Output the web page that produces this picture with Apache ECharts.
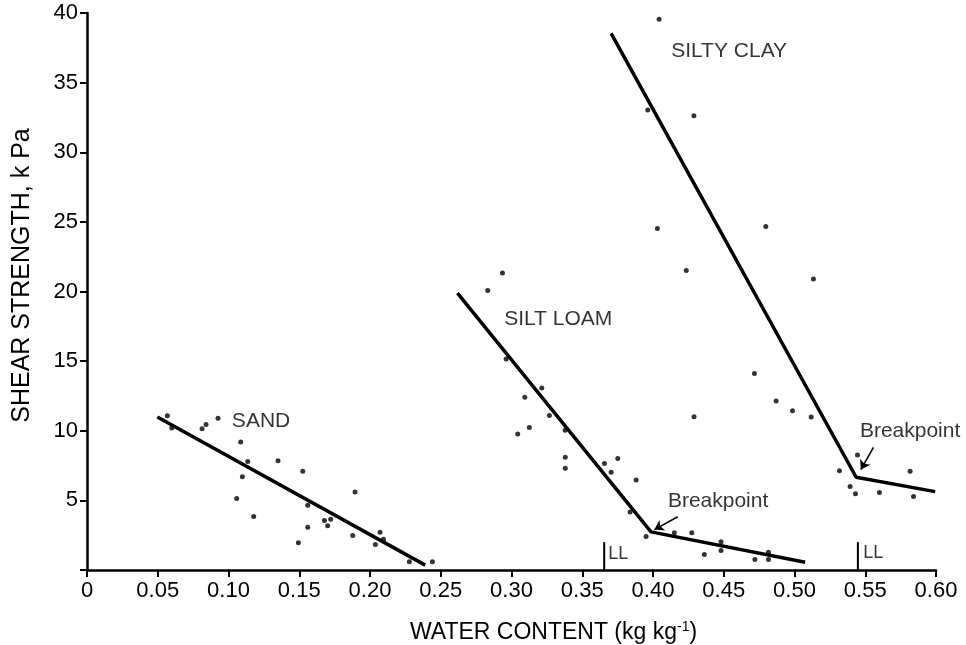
<!DOCTYPE html>
<html>
<head>
<meta charset="utf-8">
<title>Shear strength vs water content</title>
<script src="https://cdn.jsdelivr.net/npm/echarts@6/dist/echarts.min.js"></script>
<style>
  html, body { margin: 0; padding: 0; background: #fff; }
  #chart { width: 966px; height: 645px; }
</style>
</head>
<body>
<div id="chart"></div>
<script>
// measured points [water content, shear strength kPa]
const sandPts = [
  [0.0568, 11.08], [0.0599, 10.2], [0.0813, 10.15], [0.0841, 10.44], [0.0926, 10.9],
  [0.1086, 9.2], [0.1136, 7.8], [0.135, 7.85], [0.1098, 6.7], [0.1058, 5.13],
  [0.1178, 3.84], [0.1525, 7.1], [0.1894, 5.6], [0.156, 4.65], [0.1678, 3.55],
  [0.1722, 3.65], [0.1701, 3.17], [0.156, 3.07], [0.1494, 1.95], [0.1878, 2.47],
  [0.2071, 2.71], [0.2095, 2.21], [0.2038, 1.83], [0.2278, 0.59], [0.2441, 0.59]
]
const siltLoamPts = [
  [0.2936, 21.32], [0.2832, 20.07], [0.2962, 15.15], [0.3214, 13.07], [0.3094, 12.4],
  [0.3268, 11.1], [0.3126, 10.24], [0.3044, 9.77], [0.3379, 10.03], [0.338, 8.1],
  [0.338, 7.3], [0.3657, 7.64], [0.3751, 8.0], [0.3704, 7.02], [0.3881, 6.47],
  [0.3838, 4.17], [0.3951, 2.4], [0.4151, 2.67], [0.4274, 2.67], [0.4481, 2.02],
  [0.4481, 1.4], [0.4363, 1.11], [0.472, 0.75], [0.4816, 1.28], [0.4816, 0.75]
]
const siltyClayPts = [
  [0.4043, 39.56], [0.3963, 33.03], [0.4289, 32.63], [0.4031, 24.52], [0.4797, 24.66],
  [0.4235, 21.5], [0.5134, 20.89], [0.4717, 14.12], [0.487, 12.14], [0.4986, 11.44],
  [0.5118, 10.99], [0.429, 11.0], [0.5318, 7.12], [0.5445, 8.26], [0.5393, 5.99],
  [0.5431, 5.47], [0.56, 5.56], [0.5817, 7.09], [0.5841, 5.27]
]

// fitted broken-line models
const sandFit = [[0.0497, 10.99], [0.239, 0.35]]
const siltLoamFit = [[0.2618, 19.88], [0.3986, 2.74], [0.5075, 0.56]]
const siltyClayFit = [[0.3704, 38.54], [0.5436, 6.66], [0.5994, 5.63]]

// liquid limit markers
const llX = [0.3655, 0.5448]
const llTop = 2.0

// text annotations [x, y, text]
const soilLabels = [
  [0.123, 10.65, 'SAND'],
  [0.333, 18.04, 'SILT LOAM'],
  [0.4538, 37.27, 'SILTY CLAY']
]
const breakLabels = [
  [0.446, 4.91, 'Breakpoint'],
  [0.5817, 9.96, 'Breakpoint']
]
const breakArrows = [
  [[0.4175, 3.82], [0.401, 2.9]],
  [[0.5558, 8.81], [0.5469, 7.21]]
]
const llLabels = [
  [0.3683, 1.18, 'LL'],
  [0.5485, 1.22, 'LL']
]

const chart = echarts.init(document.getElementById('chart'))

const fontFamily = '"Liberation Sans", Arial, sans-serif'

const dotSeries = (data) => ({
  type: 'scatter',
  data: data,
  symbol: 'circle',
  symbolSize: 5,
  itemStyle: { color: '#000' },
  silent: true,
  z: 3
})

const fitSeries = (data) => ({
  type: 'line',
  data: data,
  showSymbol: false,
  symbol: 'none',
  lineStyle: { color: '#000', width: 3.5 },
  silent: true,
  z: 4
})

const textSeries = (data, fontSize, align) => ({
  type: 'scatter',
  data: data,
  symbolSize: 0,
  silent: true,
  label: {
    show: true,
    position: align === 'left' ? 'right' : 'inside',
    distance: 0,
    formatter: (p) => p.data[2],
    color: '#000',
    fontSize: fontSize,
    fontFamily: fontFamily
  },
  z: 5
})

const series = [
  dotSeries(sandPts),
  dotSeries(siltLoamPts),
  dotSeries(siltyClayPts),
  fitSeries(sandFit),
  fitSeries(siltLoamFit),
  fitSeries(siltyClayFit),
  textSeries(soilLabels, 21, 'center'),
  textSeries(breakLabels, 21, 'center'),
  textSeries(llLabels, 18, 'left'),
  {
    type: 'lines',
    coordinateSystem: 'cartesian2d',
    data: breakArrows.map((a) => ({ coords: a })),
    symbol: ['none', 'arrow'],
    symbolSize: 9,
    lineStyle: { color: '#000', width: 1.6, opacity: 1 },
    silent: true,
    z: 4
  }
]

llX.forEach((x) => {
  series.push({
    type: 'line',
    data: [[x, 0], [x, llTop]],
    symbol: 'none',
    lineStyle: { color: '#000', width: 2 },
    silent: true,
    z: 4
  })
})

chart.setOption({
  animation: false,
  backgroundColor: '#fff',
  grid: {
    left: 87,
    right: 30,
    top: 13,
    bottom: 75,
    containLabel: false,
    outerBoundsMode: 'none'
  },
  xAxis: {
    type: 'value',
    min: 0,
    max: 0.6,
    interval: 0.05,
    name: 'WATER CONTENT (kg kg{sup|-1})',
    nameLocation: 'middle',
    nameGap: 50,
    nameTextStyle: {
      color: '#000',
      fontSize: 23,
      fontFamily: fontFamily,
      padding: [0, 0, 0, 84],
      rich: {
        sup: { fontSize: 14, verticalAlign: 'top', padding: [0, 0, 12, 0], color: '#000', fontFamily: fontFamily }
      }
    },
    axisLine: { show: true, onZero: false, lineStyle: { color: '#000', width: 2.5 } },
    axisTick: { show: true, inside: false, length: 7, lineStyle: { color: '#000', width: 2 } },
    axisLabel: {
      color: '#000',
      fontSize: 22,
      fontFamily: fontFamily,
      margin: 10,
      formatter: (v) => (v === 0 ? '0' : v.toFixed(2))
    },
    splitLine: { show: false }
  },
  yAxis: {
    type: 'value',
    min: 0,
    max: 40,
    interval: 5,
    name: 'SHEAR STRENGTH, k Pa',
    nameLocation: 'middle',
    nameGap: 52,
    nameTextStyle: {
      color: '#000',
      fontSize: 25,
      fontFamily: fontFamily,
      padding: [0, 0, 0, 32]
    },
    axisLine: { show: true, onZero: false, lineStyle: { color: '#000', width: 2.5 } },
    axisTick: { show: true, inside: false, length: 7, lineStyle: { color: '#000', width: 2 } },
    axisLabel: {
      color: '#000',
      fontSize: 22,
      fontFamily: fontFamily,
      margin: 9,
      formatter: (v) => (v === 0 ? '' : String(v))
    },
    splitLine: { show: false }
  },
  series: series
})
</script>
</body>
</html>
